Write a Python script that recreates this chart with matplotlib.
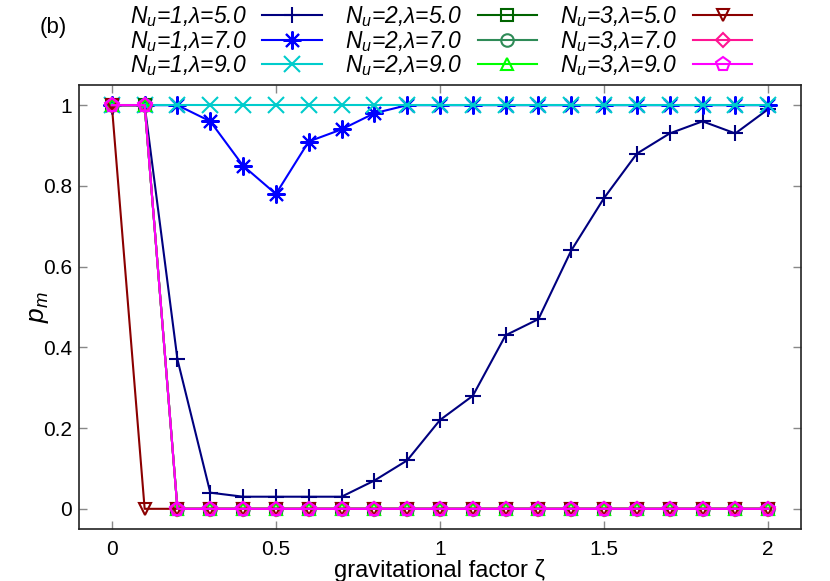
import numpy as np
import matplotlib
matplotlib.use('Agg')
import matplotlib.pyplot as plt

plt.rcParams['font.family'] = ['Liberation Sans', 'DejaVu Sans']
plt.rcParams['mathtext.fontset'] = 'custom'
plt.rcParams['mathtext.rm'] = 'Liberation Sans'
plt.rcParams['mathtext.it'] = 'Liberation Sans:italic'

# gravitational factor zeta
zeta = np.round(np.arange(0, 2.01, 0.1), 1)

# p_m for each (N_u, lambda)
n1_l5 = [1, 1, 0.37, 0.04, 0.03, 0.03, 0.03, 0.03, 0.07, 0.12, 0.22,
         0.28, 0.43, 0.47, 0.64, 0.77, 0.88, 0.93, 0.96, 0.93, 0.99]
n1_l7 = [1, 1, 1, 0.96, 0.85, 0.78, 0.91, 0.94, 0.98, 1, 1,
         1, 1, 1, 1, 1, 1, 1, 1, 1, 1]
n1_l9 = [1] * 21
n2_l5 = [1, 1] + [0] * 19
n2_l7 = [1, 1] + [0] * 19
n2_l9 = [1, 1] + [0] * 19
n3_l5 = [1] + [0] * 20
n3_l7 = [1, 1] + [0] * 19
n3_l9 = [1, 1] + [0] * 19

series = [
    (n1_l5, r'$N_u$=1,λ=5.0', '#00007f', '+', 11),
    (n1_l7, r'$N_u$=1,λ=7.0', '#0000ff', (8, 2, 0), 13),
    (n1_l9, r'$N_u$=1,λ=9.0', '#00cccc', 'x', 11),
    (n2_l5, r'$N_u$=2,λ=5.0', '#006400', 's', 9),
    (n2_l7, r'$N_u$=2,λ=7.0', '#2e8b57', 'o', 9),
    (n2_l9, r'$N_u$=2,λ=9.0', '#00ff00', '^', 8),
    (n3_l5, r'$N_u$=3,λ=5.0', '#8b0000', 'v', 9),
    (n3_l7, r'$N_u$=3,λ=7.0', '#ff1493', 'D', 7),
    (n3_l9, r'$N_u$=3,λ=9.0', '#ff00ff', 'p', 10),
]

fig = plt.figure(figsize=(8.3, 5.81), dpi=100)
ax = fig.add_axes([0.0952, 0.0895, 0.8698, 0.7642])

for vals, lab, col, mk, ms in series:
    filled = mk in ('+', 'x') or isinstance(mk, tuple)
    ax.plot(zeta, vals, color=col, lw=1.5, marker=mk, ms=ms,
            mfc=col if filled else 'none', mec=col, mew=1.5, label=lab)

ax.set_xlim(-0.1, 2.1)
ax.set_ylim(-0.05, 1.05)
ax.set_xticks([0, 0.5, 1, 1.5, 2])
ax.set_xticklabels(['0', '0.5', '1', '1.5', '2'])
ax.set_yticks([0, 0.2, 0.4, 0.6, 0.8, 1])
ax.set_yticklabels(['0', '0.2', '0.4', '0.6', '0.8', '1'])
ax.tick_params(direction='in', length=6, width=1, color='#888888',
               top=True, right=True, labelsize=15)
ax.tick_params(axis='y', pad=5)
ax.tick_params(axis='x', pad=8)
for s in ax.spines.values():
    s.set_linewidth(1.2)
    s.set_color('#222222')

ax.set_xlabel('gravitational factor ζ', fontsize=17, labelpad=0)
ax.set_ylabel(r'$p_m$', fontsize=19, labelpad=-6)

fig.text(0.048, 0.97, '(b)', fontsize=16, va='top')

fig.legend(loc='upper left', bbox_to_anchor=(0.145, 1.008), ncol=3,
           frameon=False, markerfirst=False,
           prop={'style': 'italic', 'size': 16.5},
           handlelength=2.6, handletextpad=0.7, columnspacing=1.0,
           labelspacing=-0.03, borderaxespad=0.0)

fig.savefig('out.png', dpi=100)
